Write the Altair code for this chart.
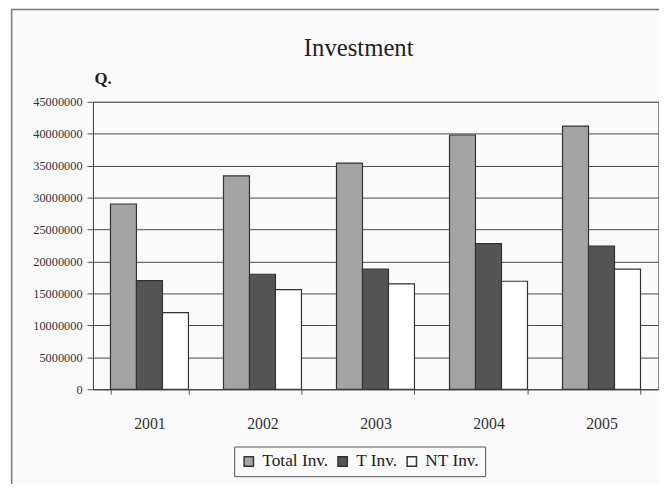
import altair as alt
import pandas as pd

years = ["2001", "2002", "2003", "2004", "2005"]
series = ["Total Inv.", "T Inv.", "NT Inv."]
total_inv = [29000000, 33400000, 35400000, 39800000, 41200000]
t_inv = [17000000, 18000000, 18800000, 22800000, 22400000]
nt_inv = [12000000, 15600000, 16500000, 16900000, 18800000]
y_ticks = [0, 5000000, 10000000, 15000000, 20000000, 25000000,
           30000000, 35000000, 40000000, 45000000]
colors = ["#a4a4a4", "#545454", "#ffffff"]

rows = []
for name, vals in zip(series, [total_inv, t_inv, nt_inv]):
    for yr, v in zip(years, vals):
        rows.append({"year": yr, "series": name, "value": v})
df = pd.DataFrame(rows)

FONT = "Liberation Serif"

bars = alt.Chart(df).mark_bar(stroke="#333333", strokeWidth=1.2).encode(
    x=alt.X("year:N", sort=years,
            scale=alt.Scale(paddingInner=0.31, paddingOuter=0.155),
            axis=alt.Axis(title=None, labelAngle=0, tickBand="extent",
                          labelFont=FONT, labelFontSize=16, labelColor="#333333",
                          labelBaseline="alphabetic", labelPadding=35,
                          tickSize=5, tickColor="#555555",
                          domainColor="#444444", grid=False)),
    xOffset=alt.XOffset("series:N", sort=series,
                        scale=alt.Scale(paddingInner=0, paddingOuter=0)),
    y=alt.Y("value:Q", scale=alt.Scale(domain=[0, 45000000], nice=False),
            axis=alt.Axis(values=y_ticks, format="d", title="Q.",
                          titleAngle=0, titleX=1, titleY=-18,
                          titleAlign="left", titleBaseline="alphabetic",
                          titleFont=FONT, titleFontSize=17, titleFontWeight="bold",
                          titleColor="#222222",
                          labelFont=FONT, labelFontSize=12.5, labelColor="#333333",
                          labelPadding=5, tickSize=6, tickColor="#555555",
                          domainColor="#444444",
                          grid=True, gridColor="#4a4a4a", gridWidth=1)),
    color=alt.Color("series:N", sort=series,
                    scale=alt.Scale(domain=series, range=colors),
                    legend=alt.Legend(title=None, orient="none",
                                      legendX=143, legendY=349,
                                      direction="horizontal",
                                      strokeColor="#555555", padding=6,
                                      symbolType="square", symbolSize=90,
                                      symbolStrokeColor="#333333",
                                      symbolStrokeWidth=1.5,
                                      labelFont=FONT, labelFontSize=17.5,
                                      labelColor="#222222",
                                      columnPadding=5, labelOffset=5)),
)

frame = alt.Chart(pd.DataFrame({"a": [0]})).mark_rect(
    fill=None, stroke="#7a7a7a", strokeWidth=1.5
).encode(
    x=alt.value(-82.3), y=alt.value(-93.3),
    x2=alt.value(720), y2=alt.value(520),
)

chart = alt.layer(frame, bars).properties(
    width=572, height=291,
    title=alt.Title("Investment", font=FONT, fontSize=25, fontWeight="normal",
                    color="#222222", anchor="middle", dx=-17, offset=-73,
                    baseline="alphabetic"),
    autosize=alt.AutoSizeParams(type="none"),
    padding={"left": 86, "top": 92, "right": 1, "bottom": 93},
    background="#fafafa",
).configure(font=FONT).configure_view(stroke="#888888", strokeWidth=1)

chart.save("out.html", embed_options={"renderer": "svg", "actions": False})
